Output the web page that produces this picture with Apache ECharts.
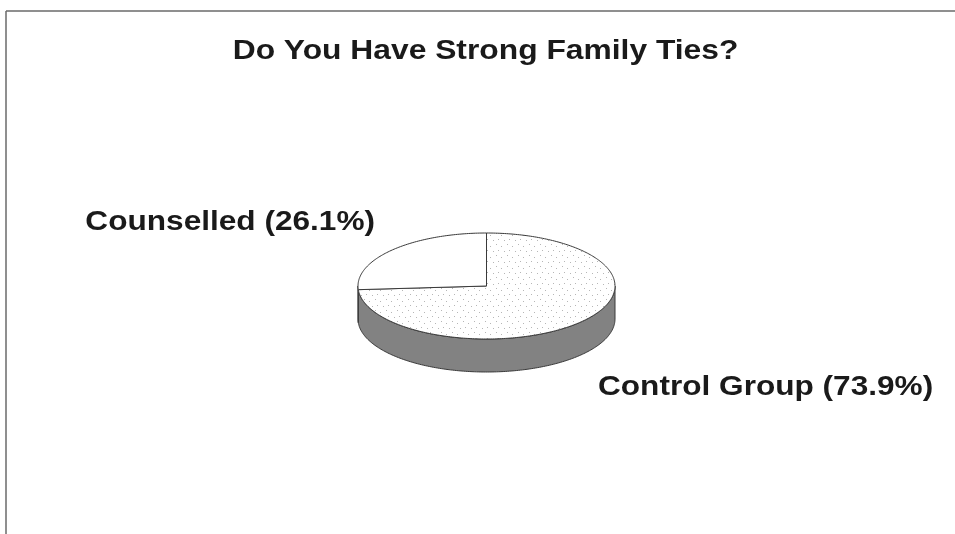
<!DOCTYPE html>
<html>
<head>
<meta charset="utf-8">
<script src="https://cdn.jsdelivr.net/npm/echarts@6/dist/echarts.min.js"></script>
<style>
  html, body { margin: 0; padding: 0; background: #ffffff; }
  #chart { width: 955px; height: 534px; }
</style>
</head>
<body>
<div id="chart"></div>
<script>
// Survey answers: share of "yes" responses per group (percent)
const chartTitle = 'Do You Have Strong Family Ties?';
const groups = ['Control Group', 'Counselled'];
const shares = [73.9, 26.1];

// Tilted-disc geometry (pixels)
const CX = 486.5, CY = 286, RX = 128.5, RY = 53, DEPTH = 33;
const LABEL_FONT = 'bold 27px "Liberation Sans", Arial, sans-serif';
const TITLE_FONT = 'bold 28px "Liberation Sans", Arial, sans-serif';

// Slices run clockwise from 12 o'clock; angles in degrees, counter-clockwise positive
const total = shares.reduce((a, b) => a + b, 0);
const slices = [];
let acc = 0;
shares.forEach((v) => {
  const end = 90 - acc / total * 360;
  const start = end - v / total * 360;
  slices.push({ start, end });
  acc += v;
});

function pt(deg, dy) {
  const r = deg * Math.PI / 180;
  return [CX + RX * Math.cos(r), CY - RY * Math.sin(r) + (dy || 0)];
}

function arcPoints(a, b, dy) {
  const pts = [];
  const n = Math.max(2, Math.ceil(Math.abs(b - a)));
  for (let i = 0; i <= n; i++) pts.push(pt(a + (b - a) * i / n, dy));
  return pts;
}

// Light stipple for the larger slice face
function stipple() {
  const c = document.createElement('canvas');
  c.width = 11; c.height = 11;
  const g = c.getContext('2d');
  g.fillStyle = '#ffffff';
  g.fillRect(0, 0, 11, 11);
  g.fillStyle = 'rgba(110,110,110,0.5)';
  [[1, 2], [6, 4], [9, 9], [3, 8]].forEach(([x, y]) => g.fillRect(x, y, 1, 1));
  return c;
}
const faceFills = [{ image: stipple(), repeat: 'repeat' }, '#ffffff'];

function renderSlice(params, api) {
  const i = params.dataIndex;
  const s = slices[i];
  const children = [];

  // Visible rim: the part of the slice lying in the front half of the disc
  const a = Math.max(s.start, -180), b = Math.min(s.end, 0);
  if (b > a) {
    const top = arcPoints(a, b, 0);
    const bottom = arcPoints(b, a, DEPTH);
    children.push({
      type: 'polygon', z2: 1,
      shape: { points: top.concat(bottom) },
      style: { fill: '#828282', stroke: '#3a3a3a', lineWidth: 1 }
    });
  }

  // Top face
  const face = [[CX, CY]].concat(arcPoints(s.start, s.end, 0));
  children.push({
    type: 'polygon', z2: 2,
    shape: { points: face },
    style: { fill: faceFills[i], stroke: '#3a3a3a', lineWidth: 1 }
  });

  // Category label placed outside the slice's mid angle
  const mid = (s.start + s.end) / 2 * Math.PI / 180;
  const c = Math.cos(mid), sn = Math.sin(mid);
  const lx = CX + (RX + 24) * c;
  const ly = sn >= 0 ? CY - (RY + 40) * sn : CY - (RY + 47) * sn + DEPTH;
  children.push({
    type: 'text', z2: 3,
    x: lx, y: ly, scaleX: 1.17,
    style: {
      text: groups[i] + ' (' + api.value(0).toFixed(1) + '%)',
      font: LABEL_FONT, fill: '#1a1a1a',
      align: c >= 0 ? 'left' : 'right', verticalAlign: 'middle'
    }
  });

  return { type: 'group', children };
}

const chart = echarts.init(document.getElementById('chart'));
chart.setOption({
  animation: false,
  backgroundColor: '#ffffff',
  graphic: [
    { type: 'line', shape: { x1: 6, y1: 11, x2: 955, y2: 11 }, style: { stroke: '#6a6a6a', lineWidth: 1.5 } },
    { type: 'line', shape: { x1: 6, y1: 11, x2: 6, y2: 534 }, style: { stroke: '#6a6a6a', lineWidth: 1.5 } },
    {
      type: 'text', x: 485.5, y: 51.5, scaleX: 1.135,
      style: { text: chartTitle, font: TITLE_FONT, fill: '#1a1a1a', align: 'center', verticalAlign: 'middle' }
    }
  ],
  series: [{
    type: 'custom',
    coordinateSystem: 'none',
    renderItem: renderSlice,
    data: shares.map((v, i) => ({ name: groups[i], value: [v] }))
  }]
});
</script>
</body>
</html>
